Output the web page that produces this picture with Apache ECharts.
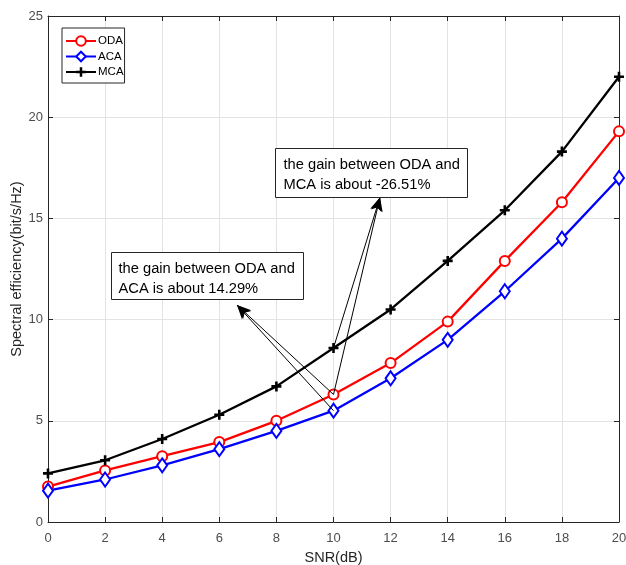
<!DOCTYPE html>
<html>
<head>
<meta charset="utf-8">
<script src="https://cdn.jsdelivr.net/npm/echarts@6/dist/echarts.min.js"></script>
<style>
html,body{margin:0;padding:0;background:#fff;}
#main{width:626px;height:565px;}
</style>
</head>
<body>
<div id="main"></div>
<script>
var snr = [0, 2, 4, 6, 8, 10, 12, 14, 16, 18, 20];
var odaValues = [1.75, 2.55, 3.25, 3.95, 5.0, 6.3, 7.85, 9.9, 12.9, 15.8, 19.3];
var acaValues = [1.55, 2.1, 2.8, 3.6, 4.5, 5.5, 7.1, 9.0, 11.4, 14.0, 17.0];
var mcaValues = [2.4, 3.05, 4.1, 5.3, 6.7, 8.6, 10.5, 12.9, 15.4, 18.3, 22.0];
var seriesNames = ['ODA', 'ACA', 'MCA'];
var annotationMCA = ['the gain between ODA and', 'MCA is about -26.51%'];
var annotationACA = ['the gain between ODA and', 'ACA is about 14.29%'];
// arrow head targets (data coordinates) for the annotations
var arrowHeadMCA = [11.63, 16.05];
var arrowHeadACA = [6.62, 10.72];

function pairs(xs, ys) { return xs.map(function (x, i) { return [x, ys[i]]; }); }

var FONT = '"Liberation Sans", Arial, Helvetica, sans-serif';
var plusPath = 'path://M3.7,0h2.6v3.7h3.7v2.6h-3.7v3.7h-2.6v-3.7h-3.7v-2.6h3.7z';

var chart = echarts.init(document.getElementById('main'), null, {renderer: 'canvas'});

var axisCommon = {
  type: 'value',
  axisLine: {show: true, onZero: false, lineStyle: {color: '#262626', width: 1}},
  axisTick: {show: true, inside: true, length: 5, lineStyle: {color: '#262626'}},
  splitLine: {show: false},
  axisLabel: {color: '#4d4d4d', fontFamily: FONT, fontSize: 13}
};

var option = {
  animation: false,
  backgroundColor: '#fff',
  textStyle: {fontFamily: FONT},
  grid: {left: 48, right: 7, top: 16, bottom: 43, containLabel: false, outerBoundsMode: 'none'},
  legend: {
    orient: 'vertical',
    left: 62, top: 28,
    data: seriesNames,
    backgroundColor: '#fff',
    borderColor: '#262626',
    borderWidth: 1,
    borderRadius: 0,
    padding: [7, 1, 5, 3],
    itemWidth: 30, itemHeight: 12,
    itemGap: 3.5,
    textStyle: {fontFamily: FONT, fontSize: 11.5, color: '#000', padding: [0, 0, 0, -3]}
  },
  xAxis: [
    Object.assign({}, axisCommon, {
      min: 0, max: 20, interval: 2, position: 'bottom',
      name: 'SNR(dB)', nameLocation: 'middle', nameGap: 28,
      nameMoveOverlap: false,
      nameTextStyle: {color: '#262626', fontFamily: FONT, fontSize: 14.5},
      axisLabel: {color: '#4d4d4d', fontFamily: FONT, fontSize: 13, margin: 10},
      splitLine: {show: true, lineStyle: {color: '#e3e3e3', width: 1}}
    }),
    Object.assign({}, axisCommon, {
      min: 0, max: 20, interval: 2, position: 'top',
      axisLabel: {show: false}
    })
  ],
  yAxis: [
    Object.assign({}, axisCommon, {
      min: 0, max: 25, interval: 5, position: 'left',
      name: 'Spectral efficiency(bit/s/Hz)', nameLocation: 'middle', nameGap: 24,
      nameMoveOverlap: false,
      nameTextStyle: {color: '#262626', fontFamily: FONT, fontSize: 14.5},
      axisLabel: {color: '#4d4d4d', fontFamily: FONT, fontSize: 13, margin: 5},
      splitLine: {show: true, lineStyle: {color: '#e3e3e3', width: 1}}
    }),
    Object.assign({}, axisCommon, {
      min: 0, max: 25, interval: 5, position: 'right',
      axisLabel: {show: false}
    })
  ],
  series: [
    {
      name: seriesNames[0], type: 'line', data: pairs(snr, odaValues),
      symbol: 'emptyCircle', symbolSize: 10,
      lineStyle: {color: '#ff0000', width: 2.3},
      itemStyle: {color: '#ff0000', borderColor: '#ff0000', borderWidth: 2},
      z: 3,
      markLine: {
        silent: true,
        symbol: ['none', 'arrow'],
        symbolSize: [9, 14],
        label: {show: false},
        lineStyle: {color: '#000', width: 1, type: 'solid'},
        data: [
          [{coord: [snr[5], odaValues[5]]}, {coord: arrowHeadMCA}],
          [{coord: [snr[5], mcaValues[5]]}, {coord: arrowHeadMCA}],
          [{coord: [snr[5], odaValues[5]]}, {coord: arrowHeadACA}],
          [{coord: [snr[5], acaValues[5]]}, {coord: arrowHeadACA}]
        ]
      }
    },
    {
      name: seriesNames[1], type: 'line', data: pairs(snr, acaValues),
      symbol: 'emptyDiamond', symbolSize: [10, 14],
      lineStyle: {color: '#0000ff', width: 2.3},
      itemStyle: {color: '#0000ff', borderColor: '#0000ff', borderWidth: 2},
      z: 3
    },
    {
      name: seriesNames[2], type: 'line', data: pairs(snr, mcaValues),
      symbol: plusPath, symbolSize: 10,
      lineStyle: {color: '#000000', width: 2.3},
      itemStyle: {color: '#000000'},
      z: 3
    }
  ],
  graphic: [
    {
      type: 'group', left: 275, top: 148, z: 100,
      children: [
        {type: 'rect', z: 100, shape: {x: 0, y: 0, width: 192, height: 49},
         style: {fill: '#fff', stroke: '#262626', lineWidth: 1}},
        {type: 'text', z: 101, x: 8, y: 6,
         style: {text: annotationMCA.join('\n'), font: '14.7px ' + FONT, fill: '#000', lineHeight: 20}}
      ]
    },
    {
      type: 'group', left: 111, top: 252, z: 100,
      children: [
        {type: 'rect', z: 100, shape: {x: 0, y: 0, width: 192, height: 47},
         style: {fill: '#fff', stroke: '#262626', lineWidth: 1}},
        {type: 'text', z: 101, x: 7, y: 6,
         style: {text: annotationACA.join('\n'), font: '14.7px ' + FONT, fill: '#000', lineHeight: 20}}
      ]
    }
  ]
};

chart.setOption(option);
</script>
</body>
</html>
